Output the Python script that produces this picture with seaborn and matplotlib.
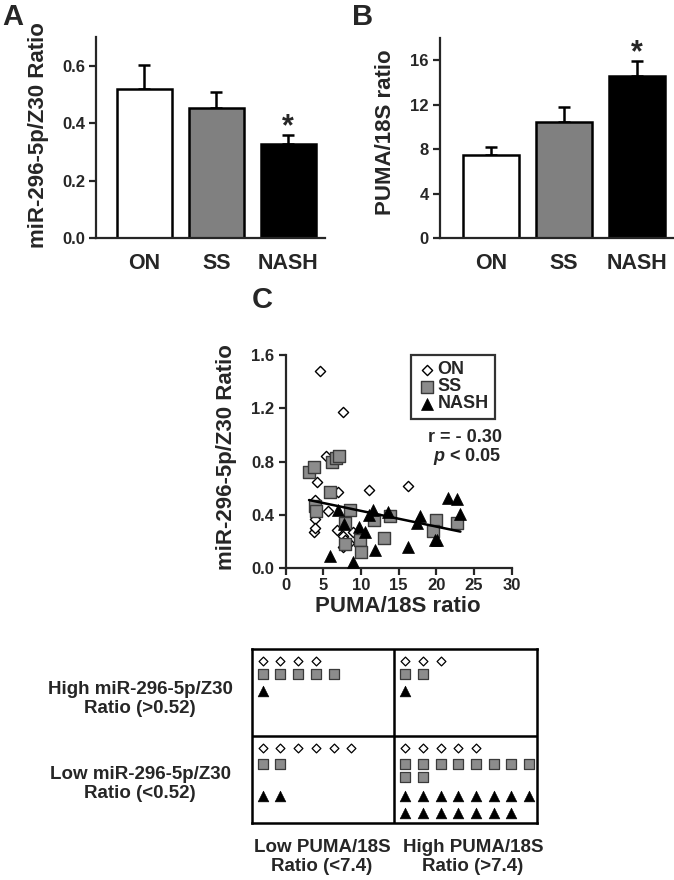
import numpy as np
import pandas as pd
import matplotlib
matplotlib.use("Agg")
import matplotlib.pyplot as plt
import seaborn as sns

# bar panels (mean +/- SEM)
groups = ["ON", "SS", "NASH"]
mir_mean = [0.52, 0.454, 0.328]
mir_sem = [0.081, 0.053, 0.029]
puma_mean = [7.45, 10.4, 14.6]
puma_sem = [0.75, 1.4, 1.3]

# scatter panel (PUMA/18S ratio, miR-296-5p/Z30 ratio)
on_puma = [4.6, 7.6, 5.3, 4.2, 7.0, 11.0, 16.2, 3.9, 5.6, 3.9, 3.7, 3.9, 6.8, 7.6, 7.6, 8.4, 8.9, 7.9]
on_mir = [1.48, 1.17, 0.84, 0.65, 0.57, 0.59, 0.62, 0.51, 0.43, 0.37, 0.27, 0.30, 0.29, 0.24, 0.16, 0.19, 0.27, 0.21]
ss_puma = [3.1, 3.7, 6.1, 6.7, 7.1, 5.9, 3.9, 4.0, 8.6, 7.9, 7.9, 9.9, 10.0, 11.7, 13.0, 13.8, 20.0, 19.6, 22.8]
ss_mir = [0.72, 0.76, 0.80, 0.83, 0.84, 0.57, 0.47, 0.43, 0.44, 0.34, 0.18, 0.21, 0.12, 0.36, 0.23, 0.39, 0.36, 0.28, 0.34]
nash_puma = [7.0, 7.8, 9.8, 10.5, 11.6, 11.1, 13.6, 5.9, 9.0, 11.9, 16.3, 17.9, 17.4, 21.6, 22.8, 23.2, 19.8, 20.1]
nash_mir = [0.44, 0.33, 0.31, 0.27, 0.44, 0.40, 0.42, 0.09, 0.05, 0.14, 0.16, 0.39, 0.34, 0.53, 0.52, 0.41, 0.21, 0.21]

# contingency grid: cells in order high/lowPUMA, high/highPUMA, low/lowPUMA, low/highPUMA
on_counts = [4, 3, 6, 5]
ss_counts = [5, 2, 2, 10]
nash_counts = [1, 1, 2, 15]

sns.set_style("ticks")
plt.rcParams["font.family"] = ["Liberation Sans", "DejaVu Sans"]
plt.rcParams["font.weight"] = "bold"
plt.rcParams["mathtext.fontset"] = "custom"
plt.rcParams["mathtext.it"] = "Liberation Sans:italic:bold"
plt.rcParams["mathtext.rm"] = "Liberation Sans:bold"
plt.rcParams["mathtext.bf"] = "Liberation Sans:bold"

W, H = 674, 880
fig = plt.figure(figsize=(W / 100, H / 100), dpi=100)


def px_axes(left, top, right, bottom):
    return fig.add_axes([left / W, 1 - bottom / H, (right - left) / W, (bottom - top) / H])


def style_axes(ax):
    for s in ["top", "right"]:
        ax.spines[s].set_visible(False)
    for s in ["left", "bottom"]:
        ax.spines[s].set_linewidth(1.6)
    ax.tick_params(axis="y", direction="out", length=5, width=1.6, pad=3, labelsize=12)


bar_colors = ["white", "#808080", "black"]


def bar_panel(ax, means, sems, ylim, yticks, ylabel, xlim, lab_x, lab_y):
    sns.barplot(x=groups, y=means, hue=groups, palette=bar_colors, edgecolor="black",
                linewidth=1.8, width=0.76, legend=False, ax=ax, zorder=2)
    ax.errorbar(range(3), means, yerr=[np.zeros(3), sems], fmt="none", ecolor="black",
                elinewidth=1.8, capsize=4.5, capthick=1.8, zorder=1)
    ax.text(2, means[2] + sems[2], "*", ha="center", va="baseline", fontsize=22,
            fontweight="bold")
    style_axes(ax)
    ax.set_xlim(*xlim)
    ax.set_ylim(*ylim)
    ax.set_yticks(yticks)
    ax.tick_params(axis="x", length=0, pad=11, labelsize=15.5)
    ax.set_ylabel(ylabel, fontsize=16, fontweight="bold")
    ax.yaxis.set_label_coords(lab_x, lab_y)
    ax.yaxis.label.set_verticalalignment("center")
    ax.set_xlabel("")


# panel A
axA = px_axes(96, 37, 325, 238)
bar_panel(axA, mir_mean, mir_sem, (0, 0.70), [0.0, 0.2, 0.4, 0.6], "miR-296-5p/Z30 Ratio",
          (-0.67, 2.51), -0.253, 0.51)
axA.set_yticklabels(["0.0", "0.2", "0.4", "0.6"])

# panel B
axB = px_axes(440, 38, 673, 238)
bar_panel(axB, puma_mean, puma_sem, (0, 18), [0, 4, 8, 12, 16], "PUMA/18S ratio",
          (-0.70, 2.49), -0.236, 0.53)

# panel C scatter
axC = px_axes(285.7, 355, 511.6, 568.3)
sns.scatterplot(x=on_puma, y=on_mir, marker="D", s=27, color="white", edgecolor="black",
                linewidth=1.0, label="ON", ax=axC, zorder=3)
sns.scatterplot(x=ss_puma, y=ss_mir, marker="s", s=64, color="#8c8c8c", edgecolor="#3a3a3a",
                linewidth=1.0, label="SS", ax=axC, zorder=3)
sns.scatterplot(x=nash_puma, y=nash_mir, marker="^", s=74, color="black", edgecolor="black",
                linewidth=0.5, label="NASH", ax=axC, zorder=4)
all_df = pd.DataFrame({"puma": on_puma + ss_puma + nash_puma,
                       "mir": on_mir + ss_mir + nash_mir})
sns.regplot(data=all_df, x="puma", y="mir", scatter=False, ci=None, truncate=True,
            color="black", line_kws={"lw": 1.8, "zorder": 5}, ax=axC)
style_axes(axC)
axC.tick_params(axis="x", direction="out", length=5, width=1.6, pad=2, labelsize=12)
axC.set_xlim(0, 30)
axC.set_ylim(0, 1.6)
axC.set_xticks([0, 5, 10, 15, 20, 25, 30])
axC.set_yticks([0.0, 0.4, 0.8, 1.2, 1.6])
axC.set_yticklabels(["0.0", "0.4", "0.8", "1.2", "1.6"])
axC.set_ylabel("miR-296-5p/Z30 Ratio", fontsize=16, fontweight="bold")
axC.yaxis.set_label_coords(-0.26, 0.52)
axC.yaxis.label.set_verticalalignment("center")
axC.set_xlabel("PUMA/18S ratio", fontsize=16, fontweight="bold")
axC.xaxis.set_label_coords(0.497, -0.18)
axC.xaxis.label.set_verticalalignment("center")
leg = axC.legend(loc="upper right", bbox_to_anchor=(0.927, 1.0), borderaxespad=0,
                 fancybox=False, frameon=True, fontsize=13, handletextpad=0.1,
                 handlelength=1.0, labelspacing=0.0, borderpad=0.35)
leg.get_frame().set_edgecolor("black")
leg.get_frame().set_linewidth(1.6)
for t in leg.get_texts():
    t.set_fontweight("bold")
axC.text(0.957, 0.615, "r = - 0.30", transform=axC.transAxes, ha="right", va="center",
         fontsize=13, fontweight="bold")
axC.text(0.957, 0.525, "$p$ < 0.05", transform=axC.transAxes, ha="right", va="center",
         fontsize=13, fontweight="bold")

# contingency grid
axG = px_axes(251.7, 649.3, 536.7, 823.3)
axG.set_xlim(0, 2)
axG.set_ylim(2, 0)
axG.set_xticks([])
axG.set_yticks([])
for s in axG.spines.values():
    s.set_linewidth(1.8)
    s.set_color("black")
    s.set_visible(True)
axG.axvline(1, color="black", lw=1.8)
axG.axhline(1, color="black", lw=1.8)

cell_w, cell_h = 142.5, 87.0
cell_origin = [(0, 0), (1, 0), (0, 1), (1, 1)]
row_start = {0: [12, 25, 42], 1: [12, 28, 60]}
row_step = [13, 13, 17]
marker_kw = [dict(marker="D", s=20, color="white", edgecolor="black", linewidth=0.9),
             dict(marker="s", s=50, color="#8c8c8c", edgecolor="#3a3a3a", linewidth=0.9),
             dict(marker="^", s=60, color="black", edgecolor="black", linewidth=0.4)]
for gi, counts in enumerate([on_counts, ss_counts, nash_counts]):
    xs, ys = [], []
    for ci, n in enumerate(counts):
        cx, cy = cell_origin[ci]
        for k in range(n):
            col, row = k % 8, k // 8
            xs.append(cx + (11 + 17.7 * col) / cell_w)
            ys.append(cy + (row_start[cy][gi] + row_step[gi] * row) / cell_h)
    sns.scatterplot(x=xs, y=ys, ax=axG, legend=False, **marker_kw[gi])


def ftext(x, y, s, size, **kw):
    fig.text(x / W, 1 - y / H, s, fontsize=size, fontweight="bold", **kw)


ftext(140, 699, "High miR-296-5p/Z30\nRatio (>0.52)", 13.5, ha="center", va="center")
ftext(140, 784, "Low miR-296-5p/Z30\nRatio (<0.52)", 13.5, ha="center", va="center")
ftext(322, 857, "Low PUMA/18S\nRatio (<7.4)", 13.5, ha="center", va="center")
ftext(473, 857, "High PUMA/18S\nRatio (>7.4)", 13.5, ha="center", va="center")

ftext(13, 17, "A", 21, ha="center", va="center")
ftext(363, 17, "B", 21, ha="center", va="center")
ftext(262, 300, "C", 21, ha="center", va="center")

fig.savefig("out.png", dpi=100)
